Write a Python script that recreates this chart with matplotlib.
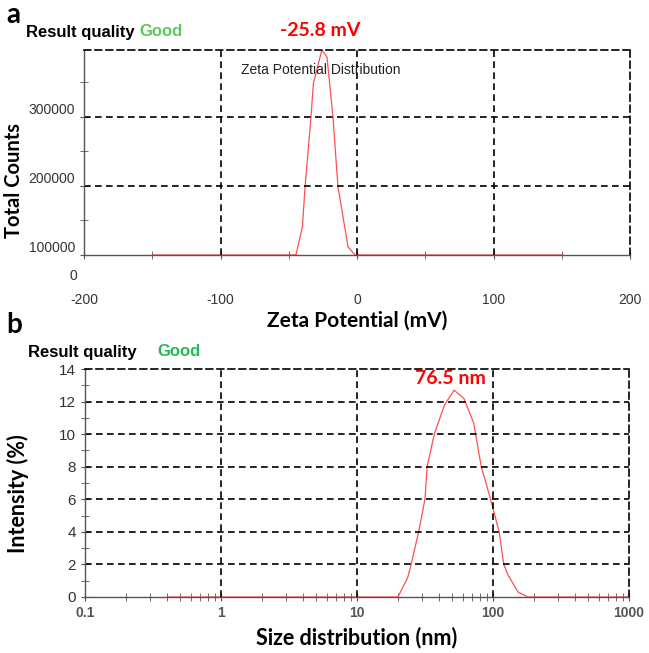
import matplotlib
matplotlib.use("Agg")
import matplotlib.pyplot as plt
from matplotlib.ticker import FixedLocator, LogLocator, NullFormatter
import matplotlib.transforms as mtransforms

# Panel a: zeta potential distribution (values as shown on the instrument scale)
zeta_mv = [-150, -44.7, -40, -38, -33.7, -32, -25.8, -22, -17.6, -14, -6.6, -1.5, 150]
zeta_counts = [100000, 100000, 141000, 200000, 300000, 348000, 397000, 387000,
               300000, 200000, 112000, 100000, 100000]
zeta_ticks = [-200, -100, 0, 100, 200]
count_ticks = [100000, 200000, 300000]

# Panel b: size distribution
size_nm = [0.4, 20, 23.6, 25, 28.4, 31.6, 32.8, 37, 44, 51.8, 61, 72, 82, 96, 111,
           120, 129, 153, 181, 1000]
intensity = [0, 0, 1.2, 2, 4, 6, 8, 10, 11.8, 12.7, 12.2, 10.7, 8, 6, 4,
             2, 1.35, 0.3, 0, 0]
size_ticks = [0.1, 1, 10, 100, 1000]
size_tick_labels = ["0.1", "1", "10", "100", "1000"]

W, H = 649, 653
fig = plt.figure(figsize=(W / 100, H / 100), dpi=100)

DASH = (0, (4, 2.6))
GRID_KW = dict(color="black", linestyle=DASH, linewidth=1.2)
BOLD = ["Lato", "DejaVu Sans"]
ARIAL = ["Liberation Sans", "DejaVu Sans"]


def fx(px):
    return px / W


def fy(py):
    return 1 - py / H


def style_axes(ax):
    for s in ("left", "bottom"):
        ax.spines[s].set_color("#555555")
        ax.spines[s].set_linewidth(1.0)
    for s in ("top", "right"):
        ax.spines[s].set_color("black")
        ax.spines[s].set_linestyle(DASH)
        ax.spines[s].set_linewidth(1.2)
    ax.tick_params(which="both", color="#555555", direction="inout")
    ax.tick_params(which="major", length=6)
    ax.tick_params(which="minor", length=6)


# ---------------- panel a ----------------
axa = fig.add_axes([fx(84), fy(255), fx(630) - fx(84), fy(50) - fy(255)])
axa.plot(zeta_mv, zeta_counts, color="#ff5050", linewidth=0.9)
axa.set_xlim(-200, 200)
axa.set_ylim(100000, 397000)
style_axes(axa)
axa.set_xticks(zeta_ticks)
axa.set_xticklabels([str(t) for t in zeta_ticks], fontsize=10, family=ARIAL,
                    color="#333333")
axa.xaxis.set_minor_locator(FixedLocator([-150, -50, 50, 150]))
axa.tick_params(axis="x", which="major", pad=24)
axa.set_yticks(count_ticks)
axa.set_yticklabels([str(t) for t in count_ticks], fontsize=10, family=ARIAL,
                    color="#333333")
axa.yaxis.set_minor_locator(FixedLocator([150000, 250000, 350000]))
for lbl in axa.get_yticklabels():
    lbl.set_verticalalignment("bottom")
for v in [-100, 0, 100]:
    axa.axvline(v, **GRID_KW)
for v in [200000, 300000]:
    axa.axhline(v, **GRID_KW)
zero_lbl = axa.text(-200, 0, "0", fontsize=10, family=ARIAL, color="#333333",
                    ha="left", va="top")
zero_lbl.set_transform(axa.get_xaxis_transform() +
                       mtransforms.ScaledTranslation(-15 / 100, -14 / 100,
                                                     fig.dpi_scale_trans))
axa.text(-85, 0.9, "Zeta Potential Distribution", transform=axa.get_xaxis_transform(),
         fontsize=10, family=ARIAL, color="#222222", va="center", ha="left")
axa.set_xlabel("Zeta Potential (mV)", fontsize=15, fontweight="bold", family=BOLD,
               labelpad=3)
axa.set_ylabel("Total Counts", fontsize=14.5, fontweight="bold", family=BOLD)
axa.yaxis.set_label_coords(fx(24), fy(181), transform=fig.transFigure)

fig.text(fx(6), fy(15), "a", fontsize=20, fontweight="bold", family=BOLD, va="center")
fig.text(fx(26), fy(32), "Result quality", fontsize=12, fontweight="bold",
         family=ARIAL, va="center")
fig.text(fx(139), fy(32), "Good", fontsize=12, fontweight="bold", family=ARIAL,
         color="#5cc85c", va="center")
fig.text(fx(320), fy(30), "-25.8 mV", fontsize=14, fontweight="bold", family=BOLD,
         color="#ff0000", va="center", ha="center")

# ---------------- panel b ----------------
axb = fig.add_axes([fx(85), fy(597), fx(629) - fx(85), fy(369) - fy(597)])
axb.plot(size_nm, intensity, color="#ff5050", linewidth=0.9)
axb.set_xscale("log")
axb.set_xlim(0.1, 1000)
axb.set_ylim(0, 14)
style_axes(axb)
axb.set_xticks(size_ticks)
axb.set_xticklabels(size_tick_labels, fontsize=10, fontweight="bold", family=ARIAL,
                    color="#555555")
axb.xaxis.set_minor_locator(LogLocator(base=10, subs=range(2, 10)))
axb.xaxis.set_minor_formatter(NullFormatter())
axb.set_yticks(range(0, 15, 2))
axb.set_yticklabels([str(t) for t in range(0, 15, 2)], fontsize=11, family=ARIAL,
                    color="#333333")
axb.yaxis.set_minor_locator(FixedLocator(range(1, 14, 2)))
for v in [1, 10, 100]:
    axb.axvline(v, **GRID_KW)
for v in range(2, 14, 2):
    axb.axhline(v, **GRID_KW)
axb.set_xlabel("Size distribution (nm)", fontsize=15.5, fontweight="bold", family=BOLD,
               labelpad=5)
axb.set_ylabel("Intensity (%)", fontsize=15.5, fontweight="bold", family=BOLD)
axb.yaxis.set_label_coords(fx(29), fy(494), transform=fig.transFigure)

fig.text(fx(6), fy(325), "b", fontsize=20, fontweight="bold", family=BOLD, va="center")
fig.text(fx(28), fy(352), "Result quality", fontsize=12, fontweight="bold",
         family=ARIAL, va="center")
fig.text(fx(157), fy(352), "Good", fontsize=12, fontweight="bold", family=ARIAL,
         color="#22bb55", va="center")
fig.text(fx(450), fy(378), "76.5 nm", fontsize=14, fontweight="bold", family=BOLD,
         color="#ff0000", va="center", ha="center")

fig.savefig("out.png", dpi=100)
